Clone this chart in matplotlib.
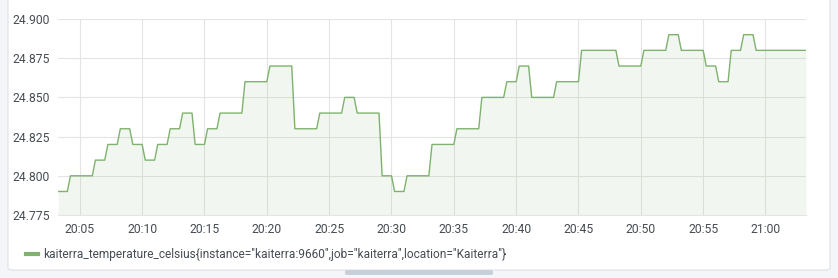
import numpy as np
import pandas as pd
import matplotlib
matplotlib.use("Agg")
import matplotlib.pyplot as plt
import matplotlib.dates as mdates
from matplotlib.patches import FancyBboxPatch

plt.rcParams['font.family'] = ['Roboto', 'DejaVu Sans']

# one reading per minute, starting 20:03:15 (prometheus scrapes every 15s)
start = "2020-01-01 20:03:15"
minute_values = [24.79, 24.80, 24.80, 24.81, 24.82, 24.83, 24.82, 24.81, 24.82, 24.83,
                 24.84, 24.82, 24.83, 24.84, 24.84, 24.86, 24.86, 24.87, 24.87, 24.83,
                 24.83, 24.84, 24.84, 24.85, 24.84, 24.84, 24.80, 24.79, 24.80, 24.80,
                 24.82, 24.82, 24.83, 24.83, 24.85, 24.85, 24.86, 24.87, 24.85, 24.85,
                 24.86, 24.86, 24.88, 24.88, 24.88, 24.87, 24.87, 24.88, 24.88, 24.89,
                 24.88, 24.88, 24.87, 24.86, 24.88, 24.89, 24.88, 24.88, 24.88, 24.88,
                 24.88]
y_ticks = [24.775, 24.800, 24.825, 24.850, 24.875, 24.900]
series_name = 'kaiterra_temperature_celsius{instance="kaiterra:9660",job="kaiterra",location="Kaiterra"}'

# each minute value seen by 4 scrapes
values = np.repeat(minute_values, 4)[:241]
times = pd.date_range(start, periods=len(values), freq="15s")

line_col = "#7eb26d"
grid_col = "#e4e4e4"
text_col = "#464c54"

fig = plt.figure(figsize=(8.38, 2.78), dpi=100)
fig.patch.set_facecolor("#f4f5f8")
panel = FancyBboxPatch((8 / 838, 8 / 278), 822 / 838, 290 / 278,
                       boxstyle="round,pad=0,rounding_size=0.006",
                       transform=fig.transFigure, facecolor="white",
                       edgecolor="#dde1e7", linewidth=0.8, zorder=-10)
fig.patches.append(panel)

ax = fig.add_axes([58 / 838, 1 - 215 / 278, 748 / 838, 196 / 278])
ax.set_facecolor("none")
ax.plot(times, values, color=line_col, linewidth=1)
ax.fill_between(times, values, y_ticks[0], color=line_col, alpha=0.1, linewidth=0)

ax.set_xlim(times[0], times[-1])
ax.set_ylim(y_ticks[0], y_ticks[-1])
ax.set_yticks(y_ticks)
ax.set_yticklabels([f"{v:.3f}" for v in y_ticks])
ax.xaxis.set_major_locator(mdates.MinuteLocator(byminute=range(0, 60, 5)))
ax.xaxis.set_major_formatter(mdates.DateFormatter("%H:%M"))

ax.grid(True, color=grid_col, linewidth=0.8)
ax.set_axisbelow(True)
for s in ["top", "right", "left"]:
    ax.spines[s].set_visible(False)
ax.spines["bottom"].set_color(grid_col)
ax.tick_params(length=0, labelsize=8.7, colors=text_col)
ax.tick_params(axis="x", pad=6)
ax.tick_params(axis="y", pad=6)

# legend
fig.add_artist(plt.Line2D([26 / 838, 38 / 838], [1 - 254 / 278] * 2,
                          transform=fig.transFigure, color=line_col, linewidth=3))
fig.text(43 / 838, 1 - 254 / 278, series_name, fontsize=8.55, color=text_col, va="center")

# resize handle
fig.patches.append(FancyBboxPatch((345 / 838, 1 - 275 / 278), 148 / 838, 5 / 278,
                                  boxstyle="round,pad=0,rounding_size=0.004",
                                  transform=fig.transFigure, facecolor="#c7d0d9",
                                  edgecolor="none", zorder=-5))

fig.savefig("out.png", dpi=100, facecolor=fig.get_facecolor())
